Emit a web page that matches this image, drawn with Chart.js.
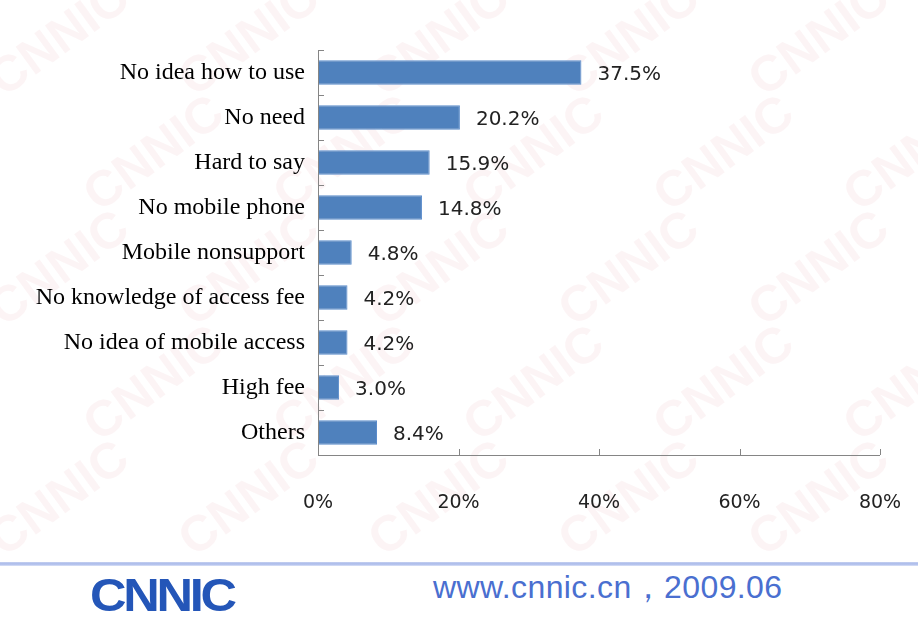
<!DOCTYPE html>
<html>
<head>
<meta charset="utf-8">
<script src="https://cdn.jsdelivr.net/npm/chart.js@4/dist/chart.umd.min.js"></script>
<style>
  html, body { margin: 0; padding: 0; background: #fff; }
  #wrap { width: 918px; height: 560px; position: relative; }
  #footer { width: 918px; height: 58px; position: relative; }
  #rule { position: absolute; left: 0; top: 2px; width: 918px; height: 4px;
          background: linear-gradient(to bottom, #c5d0f0, #a9b9ea, #dce3f7); }
  #logo { position: absolute; left: 90px; top: 12px; font-family: "Liberation Sans Narrow", "Liberation Sans", Arial, sans-serif;
          font-weight: bold; font-size: 46px; color: #2456b8; letter-spacing: -3px; transform: scaleX(1.1); transform-origin: left; line-height: 46px; }
  #site { position: absolute; left: 433px; top: 9px; font-family: "Liberation Sans", Arial, sans-serif;
          font-size: 32px; letter-spacing: 0.4px; color: #4a6fd0; line-height: 36px; }
</style>
</head>
<body>
<div id="wrap"><canvas id="grafica" width="918" height="560"></canvas></div>
<div id="footer">
  <div id="rule"></div>
  <div id="logo">CNNIC</div>
  <div id="site">www.cnnic.cn，2009.06</div>
</div>
<script>
// Categorías y porcentajes
const categorias = [
  'No idea how to use', 'No need', 'Hard to say', 'No mobile phone',
  'Mobile nonsupport', 'No knowledge of access fee', 'No idea of mobile access',
  'High fee', 'Others'
];
const valores = [37.5, 20.2, 15.9, 14.8, 4.8, 4.2, 4.2, 3.0, 8.4];
const ticksX = [0, 20, 40, 60, 80];

// Marca de agua de fondo
const marcaAgua = {
  id: 'marcaAgua',
  beforeDraw(chart) {
    const ctx = chart.ctx;
    ctx.save();
    ctx.fillStyle = 'rgba(240, 205, 210, 0.22)';
    ctx.font = 'bold 50px "Liberation Sans", Arial, sans-serif';
    ctx.textAlign = 'center';
    ctx.textBaseline = 'middle';
    for (let fila = 0; fila < 5; fila++) {
      for (let col = 0; col < 6; col++) {
        const x = col * 190 + (fila % 2) * 95 + 60;
        const y = fila * 115 + 40;
        ctx.save();
        ctx.translate(x, y);
        ctx.rotate(-Math.PI / 5);
        ctx.fillText('CNNIC', 0, 0);
        ctx.restore();
      }
    }
    ctx.restore();
  }
};

// Marcas cortas hacia dentro en los ejes y etiquetas de valor
const ejesYEtiquetas = {
  id: 'ejesYEtiquetas',
  afterDatasetsDraw(chart) {
    const ctx = chart.ctx;
    const area = chart.chartArea;
    const x = chart.scales.x;
    ctx.save();
    ctx.strokeStyle = '#858585';
    ctx.lineWidth = 1;
    ctx.beginPath();
    // eje vertical
    ctx.moveTo(area.left + 0.5, area.top);
    ctx.lineTo(area.left + 0.5, area.bottom);
    // eje horizontal
    ctx.moveTo(area.left, area.bottom + 0.5);
    ctx.lineTo(area.right, area.bottom + 0.5);
    // marcas entre categorías
    const paso = (area.bottom - area.top) / categorias.length;
    for (let i = 0; i < categorias.length; i++) {
      const yy = Math.round(area.top + i * paso) + 0.5;
      ctx.moveTo(area.left, yy);
      ctx.lineTo(area.left + 6, yy);
    }
    // marcas del eje X
    ticksX.slice(1).forEach(v => {
      const xx = Math.round(x.getPixelForValue(v)) + 0.5;
      ctx.moveTo(xx, area.bottom);
      ctx.lineTo(xx, area.bottom - 6);
    });
    ctx.stroke();

    // valores junto a cada barra
    ctx.fillStyle = '#222';
    ctx.font = '20px "DejaVu Sans", Verdana, sans-serif';
    ctx.textAlign = 'left';
    ctx.textBaseline = 'middle';
    chart.getDatasetMeta(0).data.forEach((bar, i) => {
      ctx.fillText(valores[i].toFixed(1) + '%', bar.x + 16, bar.y + 2);
    });
    ctx.restore();
  }
};

const ctx = document.getElementById('grafica').getContext('2d');
new Chart(ctx, {
  type: 'bar',
  data: {
    labels: categorias,
    datasets: [{
      data: valores,
      backgroundColor: '#4f81bd',
      borderColor: '#5b8ccb',
      borderWidth: 1,
      categoryPercentage: 0.54,
      barPercentage: 1
    }]
  },
  options: {
    indexAxis: 'y',
    responsive: false,
    animation: false,
    devicePixelRatio: 1,
    layout: { padding: { top: 50, right: 38, left: 0, bottom: 0 } },
    plugins: { legend: { display: false }, tooltip: { enabled: false } },
    scales: {
      x: {
        min: 0, max: 80,
        afterBuildTicks(scale) { scale.ticks = ticksX.map(v => ({ value: v })); },
        afterFit(scale) {
          scale.height = 105;
          scale.paddingLeft = 0;
          scale.paddingRight = 0;
        },
        border: { display: false },
        grid: { display: false, drawTicks: false },
        ticks: {
          padding: 37,
          maxRotation: 0,
          color: '#222',
          font: { family: '"DejaVu Sans", Verdana, sans-serif', size: 19 },
          callback: v => v + '%'
        }
      },
      y: {
        afterFit(scale) { scale.width = 318; },
        border: { display: false },
        grid: { display: false, drawTicks: false },
        ticks: {
          padding: 13,
          color: '#000',
          font: { family: '"Liberation Serif", "Times New Roman", serif', size: 24 }
        }
      }
    }
  },
  plugins: [marcaAgua, ejesYEtiquetas]
});
</script>
</body>
</html>
